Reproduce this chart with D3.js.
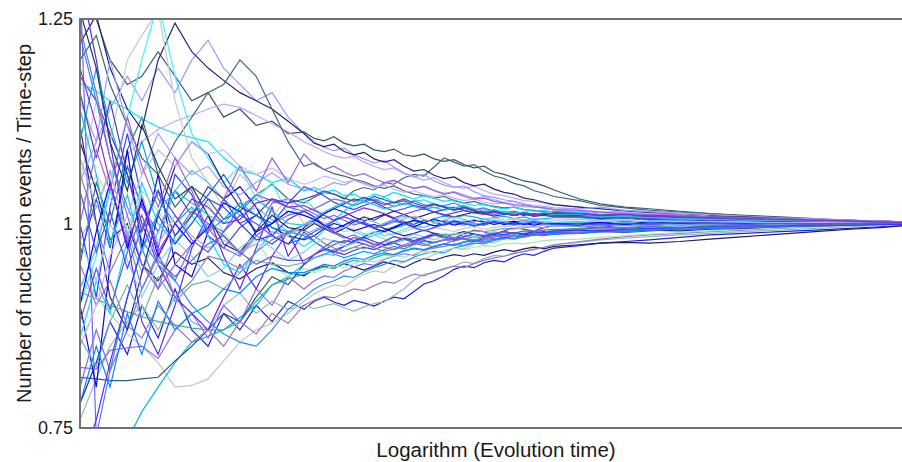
<!DOCTYPE html>
<html>
<head>
<meta charset="utf-8">
<script src="https://cdn.jsdelivr.net/npm/d3@7"></script>
<style>
  html, body { margin: 0; padding: 0; background: #fff; }
  svg { display: block; font-family: "Liberation Sans", Arial, sans-serif; }
</style>
</head>
<body>
<svg id="chart" width="902" height="462"></svg>
<script>
// Evolution time of each sample of the running average (log-spaced)
const evolutionTime = [10, 12, 14, 17, 20, 24, 29, 35, 42, 50, 60, 72, 86, 103, 123,
  138, 154, 172, 193, 215, 241, 270, 302, 337, 377, 422, 472, 528, 591, 661, 739, 827, 925, 1034, 1157, 1294, 1448, 1619, 1811, 2026,
  2700, 3400, 4500, 5900, 8300, 11600, 17200, 25500, 37700, 55800, 78200, 100000];

// Nucleation events per time-step, one array per simulation run
const run01 = [1.300,1.250,1.200,1.170,1.180, 1.210,1.180,1.150,1.160,1.130, 1.140,1.120,1.125,1.110,1.112,
  1.104,1.101,1.106,1.098,1.095, 1.097,1.090,1.088,1.091,1.084, 1.082,1.085,1.079,1.076,1.078, 1.072,1.068,1.070,1.063,1.060, 1.056,1.052,1.050,1.046,1.041,
  1.030,1.024,1.020,1.018,1.015,1.012,1.010,1.008,1.006,1.004,1.003,1.002];
const run02 = [0.950,1.050,1.000,1.090,1.130, 1.060,1.020,1.045,1.030,1.005, 1.015,1.035,1.048,1.030,1.025,
  1.032,1.038,1.036,1.030,1.040, 1.044,1.041,1.050,1.048,1.056, 1.060,1.058,1.069,1.080,1.075, 1.070,1.072,1.064,1.058,1.055, 1.049,1.046,1.040,1.037,1.033,
  1.028,1.022,1.019,1.016,1.014,1.012,1.009,1.007,1.005,1.004,1.003,1.002];
const run03 = [0.780,0.830,0.880,0.840,0.900, 0.860,0.920,0.870,0.850,0.890, 0.870,0.900,0.880,0.905,0.895,
  0.905,0.910,0.904,0.900,0.906, 0.903,0.899,0.905,0.910,0.908, 0.917,0.926,0.930,0.936,0.944, 0.948,0.946,0.952,0.955,0.953, 0.959,0.963,0.961,0.966,0.970,
  0.973,0.976,0.978,0.980,0.983,0.986,0.988,0.990,0.992,0.994,0.996,0.998];
const run04 = [0.760,0.810,0.850,0.880,0.900, 0.870,0.910,0.880,0.870,0.900, 0.915,0.890,0.905,0.895,0.900,
  0.896,0.899,0.902,0.897,0.893, 0.898,0.902,0.904,0.912,0.920, 0.931,0.938,0.940,0.944,0.948, 0.953,0.951,0.957,0.961,0.960, 0.964,0.966,0.969,0.971,0.974,
  0.977,0.980,0.982,0.984,0.986,0.988,0.990,0.992,0.994,0.996,0.998,0.999];
const run05 = [1.100,1.040,0.980,1.000,0.950, 0.930,0.965,0.950,0.958,0.940, 0.932,0.945,0.952,0.940,0.936,
  0.944,0.948,0.945,0.951,0.947, 0.943,0.948,0.953,0.950,0.946, 0.952,0.957,0.955,0.959,0.962, 0.960,0.963,0.961,0.965,0.968, 0.966,0.969,0.971,0.969,0.972,
  0.974,0.976,0.977,0.976,0.978,0.981,0.984,0.987,0.990,0.993,0.995,0.997];
const run06 = [0.930,0.910,0.890,0.865,0.850, 0.830,0.800,0.802,0.810,0.832, 0.855,0.870,0.878,0.890,0.905,
  0.914,0.920,0.925,0.923,0.931, 0.938,0.942,0.940,0.948,0.953, 0.958,0.956,0.962,0.967,0.970, 0.969,0.975,0.978,0.976,0.981, 0.984,0.983,0.987,0.990,0.991,
  0.994,0.993,0.995,0.996,0.995,0.997,0.998,0.998,0.999,0.999,1.000,1.000];
const run07 = [0.600,0.640,0.690,0.735,0.770, 0.800,0.830,0.855,0.862,0.870, 0.885,0.900,0.925,0.935,0.950,
  0.958,0.962,0.968,0.972,0.976, 0.981,0.986,0.990,0.994,0.998, 1.003,1.001,1.006,1.009,1.007, 1.010,1.008,1.005,1.007,1.009, 1.006,1.008,1.005,1.006,1.007,
  1.007,1.005,1.006,1.004,1.005,1.003,1.004,1.003,1.002,1.002,1.001,1.001];
const run08 = [0.916,0.908,0.900,0.892,0.886, 0.880,0.876,0.872,0.870,0.870, 0.880,0.905,0.925,0.932,0.938,
  0.943,0.947,0.945,0.951,0.955, 0.953,0.958,0.962,0.961,0.966, 0.969,0.967,0.972,0.975,0.974, 0.978,0.981,0.980,0.984,0.986, 0.985,0.988,0.990,0.989,0.992,
  0.994,0.996,0.995,0.997,0.996,0.998,0.997,0.998,0.999,0.999,1.000,1.000];
const run09 = [0.812,0.810,0.808,0.808,0.810, 0.812,0.832,0.850,0.870,0.890, 0.880,0.910,0.935,0.925,0.950,
  0.962,0.968,0.974,0.979,0.977, 0.984,0.989,0.992,0.996,1.001, 0.999,1.004,1.002,0.998,1.001, 1.003,1.000,0.998,1.002,1.001, 0.999,1.000,1.002,1.000,1.001,
  1.000,1.002,1.001,0.999,1.001,1.000,1.001,1.000,1.001,1.000,1.000,1.000];
const run10 = [0.824,0.822,0.845,0.848,0.850, 0.835,0.870,0.890,0.860,0.900, 0.880,0.920,0.900,0.935,0.920,
  0.930,0.936,0.934,0.942,0.947, 0.951,0.949,0.956,0.960,0.963, 0.961,0.967,0.970,0.972,0.975, 0.973,0.978,0.980,0.982,0.981, 0.985,0.987,0.986,0.989,0.990,
  0.992,0.994,0.993,0.995,0.996,0.997,0.996,0.998,0.998,0.999,0.999,1.000];
const run11 = [1.300,0.740,0.820,0.870,0.920, 0.960,0.930,0.975,1.000,0.985, 0.962,0.990,1.025,1.030,1.018,
  1.012,1.006,1.010,1.004,0.998, 1.002,0.996,1.000,1.005,1.003, 0.997,0.995,1.000,1.004,1.001, 0.998,1.002,1.005,1.003,0.999, 1.001,1.004,1.002,0.999,1.001,
  1.002,0.999,1.003,1.000,0.998,1.001,1.000,0.999,1.001,1.000,1.000,1.000];
const run12 = [1.180,1.150,1.110,1.060,1.000, 0.950,0.910,0.890,0.870,0.910, 0.950,0.920,0.960,0.990,0.950,
  0.962,0.968,0.965,0.972,0.978, 0.975,0.971,0.978,0.984,0.981, 0.977,0.983,0.988,0.986,0.982, 0.987,0.992,0.990,0.986,0.991, 0.995,0.993,0.991,0.995,0.998,
  0.997,0.995,0.999,0.997,1.000,0.998,0.999,1.000,0.999,1.000,1.000,1.000];
const run13 = [1.172,1.162,1.150,1.140,1.128, 1.118,1.110,1.105,1.100,1.080, 1.065,1.060,1.050,1.055,1.040,
  1.044,1.038,1.041,1.034,1.036, 1.030,1.028,1.032,1.026,1.023, 1.027,1.029,1.024,1.021,1.019, 1.022,1.016,1.018,1.014,1.015, 1.012,1.014,1.011,1.013,1.012,
  1.011,1.008,1.010,1.007,1.008,1.006,1.005,1.004,1.003,1.003,1.002,1.002];
const run14 = [0.980,1.020,1.060,1.085,1.100, 1.115,1.125,1.132,1.140,1.146, 1.142,1.132,1.122,1.112,1.100,
  1.094,1.088,1.083,1.080,1.082, 1.075,1.070,1.066,1.068,1.061, 1.057,1.053,1.056,1.050,1.045, 1.043,1.046,1.040,1.036,1.034, 1.031,1.028,1.027,1.025,1.022,
  1.020,1.018,1.016,1.014,1.012,1.010,1.008,1.006,1.005,1.004,1.003,1.002];
const run15 = [1.050,1.100,1.140,1.180,1.150, 1.190,1.160,1.200,1.224,1.190, 1.170,1.150,1.160,1.130,1.110,
  1.100,1.093,1.089,1.092,1.084, 1.079,1.074,1.077,1.069,1.062, 1.057,1.060,1.052,1.047,1.044, 1.046,1.039,1.034,1.032,1.029, 1.027,1.023,1.021,1.019,1.017,
  1.015,1.013,1.014,1.012,1.011,1.009,1.008,1.006,1.005,1.004,1.003,1.002];
const run16 = [1.220,1.255,1.190,1.140,1.115, 1.200,1.245,1.210,1.190,1.175, 1.160,1.150,1.140,1.125,1.110,
  1.098,1.094,1.097,1.088,1.084, 1.087,1.079,1.075,1.078,1.070, 1.064,1.066,1.059,1.055,1.057, 1.050,1.046,1.048,1.042,1.038, 1.036,1.031,1.029,1.026,1.023,
  1.020,1.018,1.015,1.013,1.011,1.010,1.008,1.006,1.005,1.004,1.003,1.002];
const run17 = [1.200,1.230,1.170,1.120,1.080, 1.060,1.100,1.130,1.160,1.170, 1.200,1.180,1.140,1.100,1.070,
  1.074,1.066,1.061,1.058,1.054, 1.051,1.046,1.043,1.046,1.040, 1.036,1.034,1.031,1.033,1.028, 1.025,1.027,1.023,1.021,1.019, 1.020,1.017,1.016,1.014,1.015,
  1.013,1.011,1.012,1.010,1.008,1.007,1.006,1.005,1.004,1.003,1.002,1.001];
const run18 = [1.050,1.150,1.100,1.200,1.230, 1.260,1.150,1.080,1.050,1.020, 1.060,1.040,1.010,1.030,1.000,
  1.006,1.001,0.995,0.990,0.993, 0.988,0.985,0.989,0.986,0.990, 0.994,0.991,0.995,0.993,0.990, 0.994,0.996,0.993,0.995,0.997, 0.995,0.997,0.996,0.998,0.997,
  0.998,0.997,0.999,0.998,1.000,0.999,1.000,0.999,1.000,1.000,1.000,1.000];
const run19 = [0.900,0.960,1.050,1.130,1.200, 1.270,1.180,1.110,1.080,1.050, 1.070,1.030,1.050,1.010,1.030,
  1.018,1.010,1.004,0.996,0.990, 0.986,0.990,0.985,0.988,0.993, 0.997,0.995,1.000,1.003,1.000, 1.002,0.999,1.001,1.004,1.002, 1.000,1.002,1.001,1.003,1.001,
  1.001,1.003,1.000,1.002,1.001,1.000,1.001,1.000,1.001,1.000,1.000,1.000];
const run20 = [1.230,1.150,1.080,1.020,0.980, 0.950,0.930,0.900,0.880,0.865, 0.855,0.850,0.870,0.895,0.910,
  0.920,0.926,0.930,0.936,0.934, 0.941,0.946,0.950,0.955,0.953, 0.959,0.963,0.966,0.964,0.970, 0.973,0.976,0.975,0.979,0.982, 0.981,0.984,0.986,0.988,0.989,
  0.991,0.993,0.992,0.994,0.995,0.996,0.997,0.998,0.998,0.999,1.000,1.000];
const run21 = [0.960,1.030,0.970,1.070,1.020, 0.990,1.040,1.010,1.035,1.060, 1.030,0.985,0.975,0.990,0.998,
  1.002,1.012,1.018,1.024,1.030, 1.027,1.033,1.029,1.025,1.028, 1.022,1.019,1.023,1.020,1.016, 1.019,1.015,1.012,1.016,1.013, 1.010,1.012,1.009,1.011,1.010,
  1.009,1.010,1.008,1.009,1.007,1.006,1.005,1.004,1.003,1.002,1.002,1.001];
const run22 = [1.300,1.200,1.100,0.980,0.880, 0.840,0.900,0.970,1.010,0.960, 0.920,0.970,1.020,0.960,0.990,
  0.978,0.970,0.966,0.962,0.967, 0.971,0.968,0.973,0.976,0.972, 0.975,0.979,0.977,0.980,0.983, 0.981,0.978,0.982,0.985,0.983, 0.986,0.984,0.987,0.986,0.988,
  0.988,0.990,0.989,0.991,0.993,0.994,0.995,0.996,0.997,0.998,0.999,0.999];
const run23 = [0.900,0.800,0.950,1.090,0.970, 1.060,0.950,0.935,0.990,1.030, 1.045,1.020,0.985,0.975,0.995,
  1.004,1.012,1.018,1.014,1.008, 1.003,1.007,1.011,1.006,1.000, 0.996,1.001,1.005,1.002,0.998, 1.001,1.004,1.002,0.999,1.001, 1.003,1.000,0.998,1.000,0.999,
  0.998,1.001,0.999,1.002,1.000,0.999,1.001,1.000,1.000,1.000,1.000,1.000];
const run24 = [1.000,0.910,1.020,1.110,1.030, 0.970,1.060,1.035,0.985,0.970, 0.995,1.010,1.000,1.025,1.045,
  1.040,1.034,1.026,1.021,1.017, 1.022,1.026,1.020,1.015,1.018, 1.022,1.019,1.014,1.017,1.020, 1.016,1.013,1.015,1.011,1.013, 1.010,1.012,1.009,1.011,1.010,
  1.010,1.007,1.008,1.006,1.007,1.005,1.004,1.003,1.003,1.002,1.001,1.001];
const run25 = [0.860,0.930,0.890,0.980,1.050, 1.000,0.975,1.010,0.985,0.950, 0.940,0.965,0.990,0.985,0.972,
  0.980,0.992,1.004,1.015,1.024, 1.030,1.036,1.033,1.038,1.034, 1.030,1.034,1.031,1.027,1.029, 1.025,1.022,1.024,1.020,1.018, 1.020,1.017,1.015,1.016,1.014,
  1.014,1.011,1.012,1.010,1.009,1.008,1.006,1.005,1.004,1.003,1.002,1.002];
const run26 = [1.150,1.100,1.200,1.120,1.060, 1.110,1.080,1.060,1.070,1.045, 1.035,1.050,1.062,1.048,1.042,
  1.040,1.044,1.050,1.047,1.053, 1.049,1.045,1.048,1.052,1.047, 1.043,1.046,1.041,1.037,1.039, 1.035,1.031,1.033,1.029,1.026, 1.027,1.024,1.022,1.021,1.019,
  1.018,1.020,1.016,1.015,1.013,1.011,1.009,1.007,1.006,1.004,1.003,1.002];
const run27 = [0.950,0.900,0.930,0.875,0.860, 0.900,0.875,0.855,0.870,0.850, 0.880,0.865,0.890,0.878,0.900,
  0.906,0.911,0.909,0.915,0.920, 0.918,0.924,0.929,0.927,0.933, 0.938,0.936,0.941,0.945,0.948, 0.946,0.951,0.955,0.958,0.960, 0.963,0.966,0.968,0.971,0.974,
  0.978,0.981,0.984,0.986,0.988,0.990,0.992,0.994,0.996,0.997,0.998,0.999];
const run28 = [1.020,1.060,1.030,0.995,1.040, 1.015,0.985,1.000,1.025,0.990, 0.960,0.980,0.950,0.935,0.945,
  0.940,0.944,0.948,0.946,0.951, 0.955,0.953,0.957,0.961,0.959, 0.963,0.966,0.964,0.967,0.970, 0.968,0.971,0.973,0.972,0.975, 0.976,0.975,0.977,0.979,0.980,
  0.981,0.983,0.985,0.987,0.989,0.991,0.993,0.995,0.996,0.997,0.998,0.999];
const run29 = [0.920,0.970,1.040,0.990,0.940, 0.990,1.040,1.065,1.050,1.030, 1.010,1.020,1.005,0.990,0.986,
  0.992,0.998,1.004,1.008,1.004, 0.999,0.995,0.999,1.005,1.009, 1.006,1.001,0.997,1.000,1.004, 1.002,0.999,1.001,1.004,1.002, 1.000,1.002,1.004,1.002,1.001,
  1.002,1.000,1.001,0.999,1.001,1.000,1.001,1.000,1.001,1.000,1.000,1.000];
const run30 = [1.120,1.000,0.910,0.870,0.940, 1.010,1.070,1.100,1.085,1.050, 1.020,1.010,0.995,0.985,0.980,
  0.985,0.994,1.000,0.996,0.991, 0.995,0.999,0.994,0.989,0.985, 0.988,0.992,0.988,0.984,0.987, 0.990,0.987,0.984,0.987,0.990, 0.988,0.986,0.988,0.990,0.988,
  0.989,0.991,0.990,0.992,0.991,0.993,0.994,0.996,0.997,0.998,0.999,0.999];
const run31 = [0.850,0.900,0.960,1.010,1.060, 1.090,1.070,1.100,1.085,1.090, 1.070,1.060,1.068,1.055,1.048,
  1.052,1.058,1.055,1.050,1.053, 1.048,1.044,1.047,1.042,1.038, 1.040,1.036,1.033,1.035,1.031, 1.028,1.030,1.026,1.024,1.025, 1.022,1.020,1.021,1.018,1.017,
  1.016,1.015,1.014,1.012,1.011,1.009,1.008,1.006,1.005,1.004,1.003,1.002];
const run32 = [1.060,1.000,0.940,0.985,0.920, 0.965,0.910,0.930,0.960,0.955, 0.945,0.965,0.980,0.990,0.992,
  0.985,0.976,0.970,0.966,0.971, 0.975,0.970,0.966,0.969,0.974, 0.978,0.975,0.971,0.975,0.979, 0.982,0.979,0.976,0.980,0.983, 0.985,0.983,0.986,0.988,0.987,
  0.989,0.991,0.990,0.992,0.994,0.995,0.996,0.997,0.998,0.999,0.999,1.000];
const run33 = [1.100,1.190,1.120,1.050,1.100, 1.030,1.000,1.020,0.990,1.005, 1.025,1.010,0.995,0.990,0.985,
  0.978,0.970,0.963,0.958,0.962, 0.966,0.963,0.968,0.972,0.969, 0.974,0.978,0.976,0.980,0.983, 0.981,0.984,0.982,0.985,0.987, 0.986,0.988,0.987,0.989,0.990,
  0.991,0.990,0.992,0.993,0.994,0.995,0.996,0.997,0.998,0.999,0.999,1.000];
const run34 = [0.800,0.870,0.820,0.910,0.970, 0.920,0.985,1.015,1.000,0.990, 1.020,1.035,1.028,1.020,1.015,
  1.018,1.024,1.030,1.027,1.022, 1.026,1.030,1.025,1.021,1.024, 1.028,1.023,1.019,1.022,1.025, 1.020,1.017,1.019,1.015,1.013, 1.015,1.012,1.010,1.011,1.009,
  1.008,1.009,1.007,1.008,1.006,1.005,1.004,1.003,1.003,1.002,1.001,1.001];
const run35 = [1.260,1.190,1.100,1.040,1.120, 1.070,1.030,1.045,1.010,0.975, 0.965,0.990,1.010,0.995,0.992,
  1.000,0.994,0.988,0.994,1.002, 1.008,1.004,1.010,1.015,1.011, 1.006,1.010,1.014,1.011,1.008, 1.011,1.014,1.012,1.009,1.011, 1.013,1.010,1.012,1.011,1.013,
  1.012,1.010,1.011,1.009,1.010,1.008,1.008,1.006,1.004,1.003,1.002,1.001];
const run36 = [0.980,0.930,1.000,0.955,0.910, 0.950,0.980,0.960,0.935,0.945, 0.970,0.985,0.970,0.955,0.965,
  0.975,0.982,0.978,0.972,0.976, 0.982,0.986,0.981,0.977,0.982, 0.987,0.984,0.980,0.984,0.988, 0.986,0.983,0.987,0.990,0.988, 0.986,0.989,0.991,0.989,0.992,
  0.991,0.994,0.993,0.995,0.996,0.997,0.997,0.998,0.999,0.999,1.000,1.000];
const run37 = [1.240,1.160,1.080,1.010,0.950, 0.920,0.950,0.975,0.995,0.970, 0.960,0.985,1.000,1.010,1.015,
  1.008,0.996,0.988,0.982,0.986, 0.980,0.975,0.971,0.968,0.972, 0.976,0.973,0.977,0.980,0.978, 0.982,0.979,0.983,0.985,0.983, 0.986,0.984,0.987,0.988,0.987,
  0.989,0.991,0.990,0.992,0.993,0.994,0.995,0.996,0.997,0.998,0.999,1.000];
const run38 = [0.900,0.990,1.050,0.970,1.030, 0.960,1.000,0.975,0.995,1.025, 1.015,0.990,1.000,1.015,1.010,
  1.005,0.998,0.993,0.998,1.004, 1.000,0.994,0.990,0.995,1.000, 1.004,1.001,0.997,0.999,1.003, 1.000,0.997,1.000,1.002,0.999, 1.001,0.999,1.001,1.000,1.000,
  1.000,1.001,0.999,1.001,1.000,1.001,1.000,1.000,1.000,1.000,1.000,1.000];
const run39 = [0.860,0.825,0.880,0.925,0.885, 0.935,0.905,0.925,0.930,0.920, 0.940,0.955,0.950,0.948,0.952,
  0.958,0.963,0.961,0.967,0.971, 0.969,0.974,0.978,0.976,0.980, 0.983,0.981,0.985,0.987,0.986, 0.989,0.991,0.990,0.992,0.994, 0.993,0.995,0.996,0.995,0.997,
  0.996,0.998,0.997,0.999,0.998,0.999,0.999,1.000,1.000,1.000,1.000,1.000];
const run40 = [1.160,1.080,1.150,1.060,0.990, 1.040,0.985,1.010,1.045,1.030, 1.000,1.010,1.030,1.025,1.030,
  1.034,1.040,1.036,1.031,1.027, 1.032,1.028,1.023,1.026,1.030, 1.025,1.021,1.024,1.020,1.017, 1.020,1.016,1.013,1.015,1.012, 1.010,1.012,1.009,1.010,1.008,
  1.008,1.006,1.007,1.005,1.004,1.004,1.003,1.002,1.002,1.001,1.001,1.000];
const run41 = [1.000,1.090,1.040,1.130,1.070, 1.020,1.080,1.040,0.990,1.030, 1.070,1.040,1.080,1.050,1.085,
  1.072,1.066,1.070,1.063,1.058, 1.061,1.055,1.050,1.053,1.047, 1.043,1.045,1.040,1.036,1.038, 1.033,1.030,1.031,1.027,1.025, 1.023,1.022,1.020,1.019,1.017,
  1.016,1.014,1.012,1.011,1.010,1.008,1.007,1.006,1.005,1.004,1.003,1.002];
const run42 = [0.780,0.850,0.800,0.890,0.840, 0.905,0.870,0.890,0.900,0.920, 0.915,0.935,0.945,0.940,0.940,
  0.945,0.950,0.948,0.954,0.958, 0.956,0.961,0.964,0.962,0.967, 0.970,0.968,0.972,0.975,0.973, 0.977,0.979,0.978,0.981,0.983, 0.982,0.985,0.986,0.985,0.987,
  0.988,0.990,0.991,0.992,0.993,0.994,0.995,0.996,0.997,0.998,0.999,0.999];
const run43 = [1.080,1.020,1.065,0.985,1.035, 0.975,1.010,0.985,0.970,0.980, 0.965,0.975,0.990,0.985,0.998,
  1.002,0.996,0.991,0.995,1.000, 1.005,1.002,0.997,1.001,1.006, 1.009,1.005,1.001,1.004,1.008, 1.005,1.002,1.005,1.007,1.004, 1.006,1.004,1.006,1.005,1.004,
  1.005,1.003,1.004,1.002,1.003,1.002,1.002,1.001,1.001,1.001,1.000,1.000];
const run44 = [0.700,0.760,0.830,0.910,0.970, 1.010,0.975,1.000,1.030,1.020, 1.000,0.980,0.985,1.005,1.015,
  1.008,0.998,0.990,0.984,0.979, 0.983,0.978,0.974,0.978,0.982, 0.979,0.983,0.986,0.983,0.980, 0.984,0.987,0.985,0.988,0.986, 0.989,0.987,0.990,0.989,0.991,
  0.992,0.991,0.993,0.994,0.995,0.996,0.997,0.997,0.998,0.998,0.999,0.999];
const run45 = [1.040,0.965,1.015,0.945,0.995, 1.040,1.010,0.980,0.965,0.990, 1.010,1.000,0.985,0.975,0.982,
  0.990,0.996,1.003,1.008,1.004, 0.999,0.994,0.998,1.003,1.000, 0.995,0.991,0.995,0.999,1.003, 1.000,0.997,0.999,1.002,1.000, 0.998,1.000,1.002,1.000,0.999,
  1.000,0.998,1.000,0.999,1.001,1.000,0.999,1.000,1.000,1.000,1.000,1.000];
const run46 = [1.140,1.060,0.975,1.035,0.965, 1.015,1.040,1.025,1.010,1.000, 1.020,1.030,1.015,1.000,0.998,
  1.006,1.014,1.020,1.026,1.022, 1.027,1.023,1.018,1.021,1.025, 1.021,1.017,1.020,1.016,1.019, 1.022,1.018,1.015,1.017,1.014, 1.012,1.014,1.011,1.013,1.011,
  1.011,1.008,1.009,1.007,1.006,1.005,1.004,1.004,1.003,1.002,1.002,1.001];
const run47 = [0.880,0.945,0.895,0.965,1.010, 0.955,0.935,0.955,0.975,0.985, 0.965,0.950,0.960,0.955,0.955,
  0.962,0.971,0.979,0.976,0.983, 0.979,0.974,0.978,0.984,0.981, 0.977,0.981,0.986,0.983,0.980, 0.984,0.987,0.985,0.988,0.990, 0.988,0.991,0.990,0.992,0.993,
  0.993,0.995,0.994,0.996,0.995,0.997,0.997,0.998,0.999,0.999,1.000,1.000];
const run48 = [1.190,1.120,1.050,0.975,1.025, 0.965,1.000,1.030,1.020,1.000, 1.005,1.025,1.030,1.020,1.022,
  1.016,1.010,1.004,1.009,1.014, 1.019,1.016,1.012,1.007,1.011, 1.015,1.018,1.014,1.010,1.013, 1.016,1.013,1.011,1.014,1.012, 1.010,1.013,1.011,1.012,1.012,
  1.012,1.010,1.011,1.009,1.008,1.007,1.006,1.005,1.004,1.003,1.002,1.001];

const runs = [run01, run02, run03, run04, run05, run06, run07, run08, run09, run10, run11, run12,
  run13, run14, run15, run16, run17, run18, run19, run20, run21, run22, run23, run24,
  run25, run26, run27, run28, run29, run30, run31, run32, run33, run34, run35, run36,
  run37, run38, run39, run40, run41, run42, run43, run44, run45, run46, run47, run48];

const runColors = ["#2f5a6a", "#3d6b7a", "#2020e0", "#8fbcbc", "#1c1c6e", "#c4c4c4", "#00b8f0", "#3cb38a",
  "#2a5a8a", "#8a6aff", "#6a6aff", "#7020f0", "#00e5ff", "#c8a0ff", "#9a9aff", "#23237a",
  "#3a6e6e", "#c8c8c8", "#40f0ff", "#1e90ff", "#1560d0", "#5a2ee0", "#0a0ad0", "#3c3cff",
  "#00e0ff", "#a0a0ff", "#9c7bbd", "#a8e8b0", "#4fc3f7", "#25258f", "#c8b0ff", "#8080c0",
  "#00a8e8", "#7070e0", "#1c3a5a", "#80d0ff", "#9966cc", "#0000ff", "#66b2b2", "#4444aa",
  "#a060e0", "#0088ff", "#b0b0d8", "#3a3af0", "#5050ff", "#20c0e0", "#6a5acd", "#8a2be2"];

const yTicks = [0.75, 1, 1.25];
const yTickLabels = ["0.75", "1", "1.25"];
const xTitle = "Logarithm (Evolution time)";
const yTitle = "Number of nucleation events / Time-step";

const W = 902, H = 462;
const margin = { top: 19, right: 0, bottom: 34, left: 80 };
const innerW = W - margin.left - margin.right;
const innerH = H - margin.top - margin.bottom;

const svg = d3.select("#chart");

const x = d3.scaleLog()
  .domain(d3.extent(evolutionTime))
  .range([margin.left, margin.left + innerW]);
const y = d3.scaleLinear()
  .domain([0.75, 1.25])
  .range([margin.top + innerH, margin.top]);

svg.append("defs").append("clipPath").attr("id", "plot-clip")
  .append("rect")
  .attr("x", margin.left).attr("y", margin.top)
  .attr("width", innerW).attr("height", innerH);

const line = d3.line()
  .x((d, i) => x(evolutionTime[i]))
  .y(d => y(d));

svg.append("g")
  .attr("clip-path", "url(#plot-clip)")
  .selectAll("path")
  .data(runs)
  .join("path")
  .attr("d", line)
  .attr("fill", "none")
  .attr("stroke", (d, i) => runColors[i % runColors.length])
  .attr("stroke-width", 1.2)
  .attr("stroke-linejoin", "miter");

// Frame: top, left and bottom edges of the plotting area
const frame = svg.append("g").attr("stroke", "#727272").attr("stroke-width", 2).attr("fill", "none");
frame.append("line").attr("x1", margin.left).attr("x2", W).attr("y1", margin.top).attr("y2", margin.top);
frame.append("line").attr("x1", margin.left).attr("x2", W).attr("y1", margin.top + innerH).attr("y2", margin.top + innerH);
frame.append("line").attr("x1", margin.left).attr("x2", margin.left).attr("y1", margin.top - 1).attr("y2", margin.top + innerH + 1);

// Y axis tick labels
const yAxis = d3.axisLeft(y)
  .tickValues(yTicks)
  .tickFormat((d, i) => yTickLabels[i])
  .tickSize(0)
  .tickPadding(7);
const gy = svg.append("g").attr("transform", `translate(${margin.left},0)`).call(yAxis);
gy.select(".domain").remove();
gy.selectAll("text")
  .attr("font-family", "'Liberation Sans', Arial, sans-serif")
  .attr("font-size", 18)
  .attr("fill", "#1a1a1a");

// Axis titles
svg.append("text")
  .attr("x", 496)
  .attr("y", 457)
  .attr("text-anchor", "middle")
  .attr("font-size", 20.5)
  .attr("fill", "#1a1a1a")
  .text(xTitle);

svg.append("text")
  .attr("transform", `translate(31,${margin.top + innerH / 2}) rotate(-90)`)
  .attr("text-anchor", "middle")
  .attr("font-size", 20)
  .attr("fill", "#1a1a1a")
  .text(yTitle);
</script>
</body>
</html>
